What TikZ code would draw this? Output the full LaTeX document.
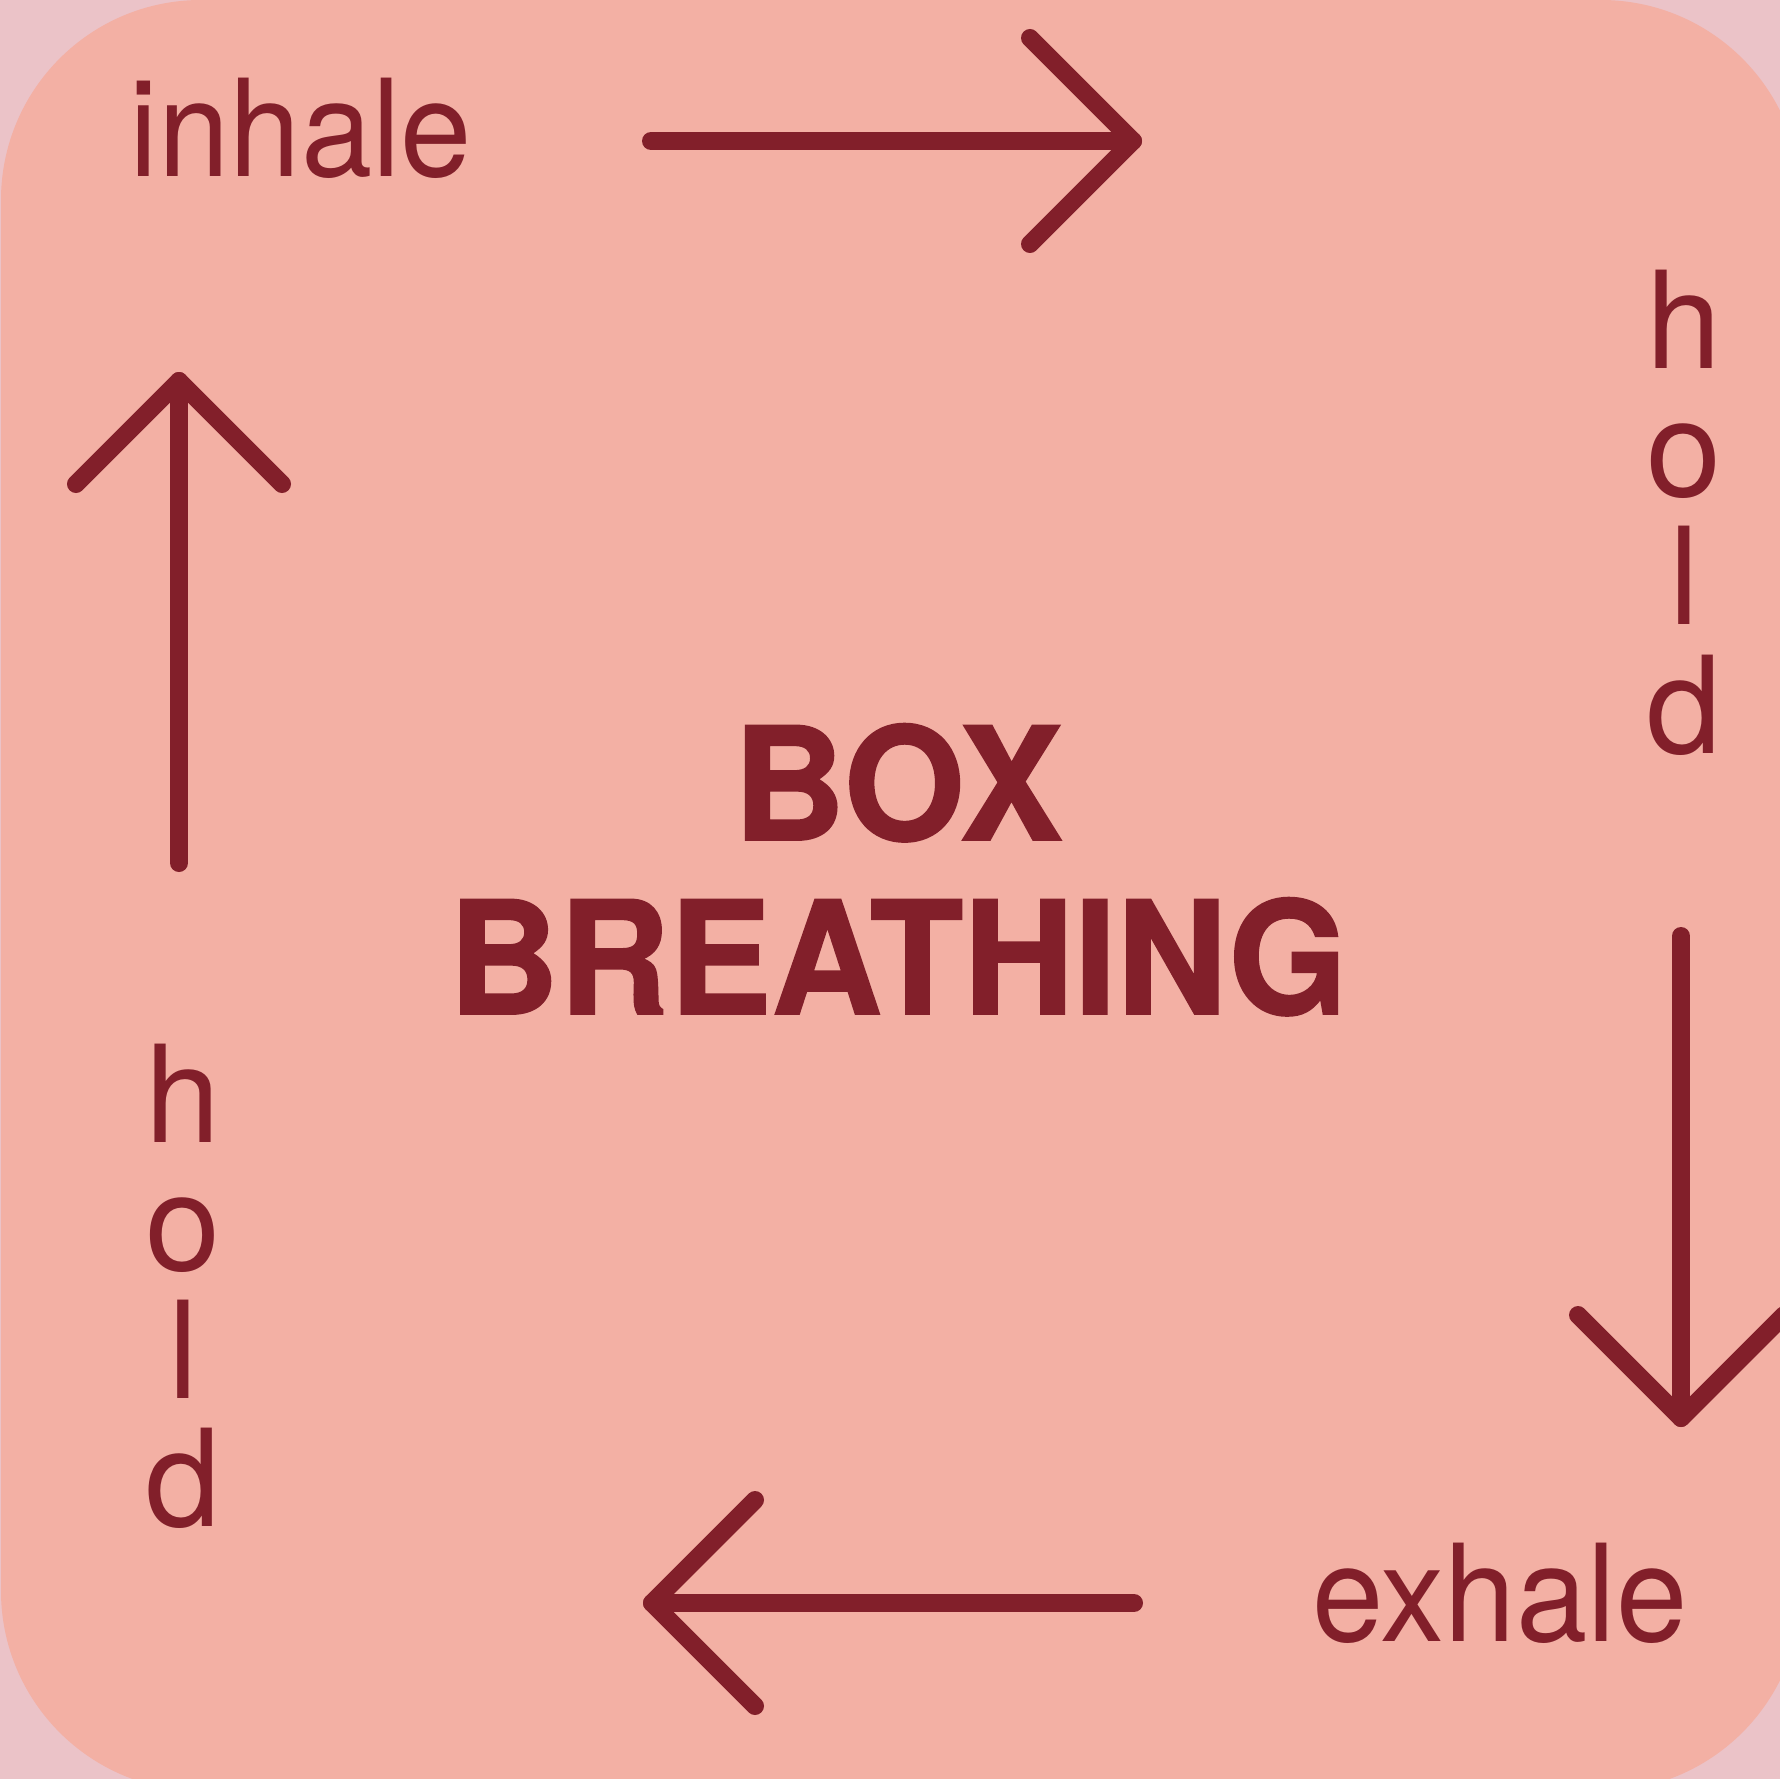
\documentclass[tikz,border=0pt]{standalone}
\usepackage{fontspec}
\setmainfont{TeX Gyre Heros}
\newfontfamily\titlefont[FakeBold=1.2]{TeX Gyre Heros}
\definecolor{bgpink}{HTML}{EBC3C8}
\definecolor{salmon}{HTML}{F3B0A4}
\definecolor{wine}{HTML}{821F2A}
\begin{document}
\begin{tikzpicture}[x=1pt,y=-1pt,
  arrowline/.style={draw=wine, line width=18pt, line cap=round, line join=round},
  lbl/.style={text=wine, inner sep=0pt, anchor=base, font=\fontsize{135}{135}\selectfont},
  ttl/.style={text=wine, inner sep=0pt, anchor=base, font=\titlefont\bfseries\fontsize{157}{157}\selectfont}]
\useasboundingbox (0,0) rectangle (1780,1779);
\clip (0,0) rectangle (1780,1779);
\fill[bgpink] (0,0) rectangle (1780,1779);
\fill[salmon, rounded corners=200pt] (1,0) rectangle (1801,1791);

% arrow coordinates
\coordinate (t1) at (651,141);
\coordinate (t2) at (1133,141);
\coordinate (ta) at (1030,38);
\coordinate (tb) at (1030,244);
\coordinate (r1) at (1681,936);
\coordinate (r2) at (1681,1418);
\coordinate (ra) at (1578,1315);
\coordinate (rb) at (1784,1315);
\coordinate (b1) at (1134,1603);
\coordinate (b2) at (652,1603);
\coordinate (ba) at (755,1500);
\coordinate (bb) at (755,1706);
\coordinate (l1) at (179,863);
\coordinate (l2) at (179,381);
\coordinate (la) at (76,484);
\coordinate (lb) at (282,484);

\draw[arrowline] (t1) -- (t2);
\draw[arrowline] (ta) -- (t2) -- (tb);
\draw[arrowline] (r1) -- (r2);
\draw[arrowline] (ra) -- (r2) -- (rb);
\draw[arrowline] (b1) -- (b2);
\draw[arrowline] (ba) -- (b2) -- (bb);
\draw[arrowline] (l1) -- (l2);
\draw[arrowline] (la) -- (l2) -- (lb);

% labels
\node[lbl] (inhale) at (301,177) {\scalebox{0.95}[1]{inhale}};
\node[lbl] (exhale) at (1500,1641) {\scalebox{0.95}[1]{exhale}};

\node[lbl] (hr1) at (1684,368) {h};
\node[lbl] (hr2) at (1684,496) {o};
\node[lbl] (hr3) at (1684,624) {l};
\node[lbl] (hr4) at (1684,753) {d};

\node[lbl] (hl1) at (183,1142) {h};
\node[lbl] (hl2) at (183,1270) {o};
\node[lbl] (hl3) at (183,1398) {l};
\node[lbl] (hl4) at (183,1526) {d};

\node[ttl] (box) at (898,840) {\scalebox{0.99}[1]{BOX}};
\node[ttl] (breathing) at (898,1014) {\scalebox{0.975}[1]{BREATHING}};
\end{tikzpicture}
\end{document}
